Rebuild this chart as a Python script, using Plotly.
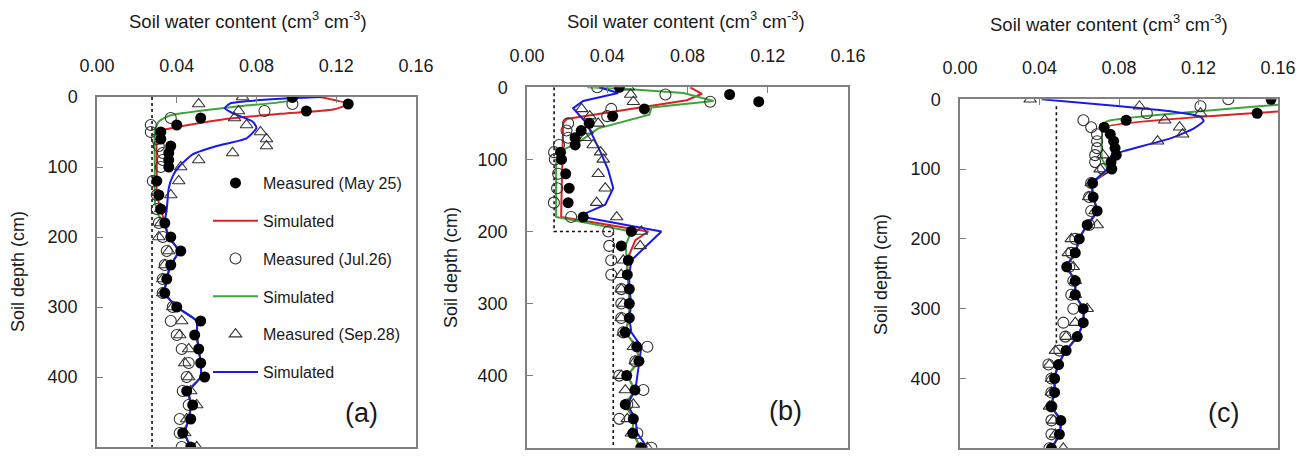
import plotly.graph_objects as go

W, H = 1311, 456
FONT = "Arial, Liberation Sans, sans-serif"

# ---------------- data ----------------
depths = [0, 10, 20, 30, 40, 50, 60, 70, 80, 90, 100, 120, 140, 160, 180, 200, 220, 240,
          260, 280, 300, 320, 340, 360, 380, 400, 420, 440, 460, 480, 500]
x_ticks = [0.0, 0.04, 0.08, 0.12, 0.16]
x_ticktext = ["0.00", "0.04", "0.08", "0.12", "0.16"]
y_ticks = [0, 100, 200, 300, 400, 500]

# Panel (a)
a_may = [0.098, 0.126, 0.105, 0.052, 0.040, 0.032, 0.032, 0.037, 0.036, 0.036, 0.036,
         0.030, 0.031, 0.032, 0.034, 0.037, 0.042, 0.037, 0.035, 0.034, 0.040,
         0.052, 0.049, 0.051, 0.052, 0.054, 0.045, 0.048, 0.047, 0.043, 0.047]
a_jul = [0.098, 0.098, 0.084, 0.037, 0.027, 0.027, 0.030, 0.031, 0.033, 0.033, 0.032,
         0.028, 0.030, 0.030, 0.031, 0.033, 0.035, 0.034, 0.033, 0.033, 0.038,
         0.037, 0.040, 0.0425, 0.046, 0.045, 0.043, 0.046, 0.0415, 0.0415, 0.0425]
a_sep = [0.073, 0.051, 0.071, 0.069, 0.075, 0.082, 0.085, 0.085, 0.068, 0.051, 0.042,
         0.041, 0.037, 0.032, 0.032, 0.031, 0.036, 0.034, 0.033, 0.033, 0.038,
         0.0425, 0.0415, 0.046, 0.044, 0.046, 0.047, 0.050, 0.045, 0.044, 0.050]
a_deep_d = [200, 220, 240, 260, 280, 300, 320, 340, 360, 380, 400, 420, 440, 460, 480, 500]
a_deep_v = [0.036, 0.041, 0.037, 0.035, 0.034, 0.040, 0.050, 0.050, 0.051, 0.052, 0.052,
            0.046, 0.047, 0.046, 0.044, 0.047]
a_red_d = [0, 10, 18, 24, 32, 43, 48, 60, 100, 140, 160, 180]
a_red_v = [0.112, 0.126, 0.1185, 0.092, 0.063, 0.040, 0.032, 0.030, 0.030, 0.030, 0.032, 0.034]
a_green_d = [0, 5, 13, 26, 35, 49, 100, 150, 170, 180]
a_green_v = [0.098, 0.097, 0.072, 0.037, 0.031, 0.029, 0.029, 0.029, 0.031, 0.034]
a_blue_d = [0, 2, 9, 16, 23, 35, 44, 59, 70, 82, 100, 113, 130, 160, 180]
a_blue_v = [0.113, 0.095, 0.067, 0.064, 0.068, 0.078, 0.080, 0.075, 0.060, 0.048, 0.041,
            0.038, 0.036, 0.035, 0.034]
a_dot_x = [0.0276, 0.0276]
a_dot_d = [0, 500]

# Panel (b)
b_may = [0.046, 0.101, 0.1155, 0.0585, 0.0427, 0.031, 0.027, 0.024, 0.024, 0.0167, 0.0172,
         0.0193, 0.021, 0.0205, 0.028, 0.052, 0.047, 0.0505, 0.050, 0.051, 0.051,
         0.051, 0.049, 0.0547, 0.0558, 0.0497, 0.0538, 0.049, 0.053, 0.0527, 0.0567]
b_jul = [0.035, 0.069, 0.0913, 0.042, 0.040, 0.0205, 0.0197, 0.0205, 0.016, 0.0135, 0.0139,
         0.0155, 0.015, 0.0134, 0.022, 0.0405, 0.041, 0.042, 0.042, 0.047, 0.047,
         0.047, 0.048, 0.060, 0.054, 0.046, 0.058, 0.050, 0.046, 0.055, 0.062]
b_sep = [0.0505, 0.0517, 0.053, 0.0272, 0.0313, 0.0355, 0.030, 0.029, 0.033, 0.0367, 0.038,
         0.0355, 0.039, 0.0347, 0.0447, 0.057, 0.0564, 0.048, 0.047, 0.047, 0.048,
         0.047, 0.048, 0.053, 0.054, 0.047, 0.049, 0.053, 0.050, 0.052, 0.060]
b_deep_d = [240, 260, 280, 300, 320, 340, 360, 380, 400, 420, 440, 460, 480, 500]
b_deep_red = [0.050, 0.050, 0.051, 0.051, 0.051, 0.049, 0.0547, 0.0558, 0.050, 0.0538,
              0.049, 0.053, 0.0527, 0.0567]
b_deep_blue = [0.052, 0.051, 0.051, 0.052, 0.051, 0.052, 0.057, 0.056, 0.055, 0.054,
               0.050, 0.054, 0.055, 0.060]
b_red_d = [0, 9, 18, 26, 36, 44, 50, 100, 180, 200, 212, 230]
b_red_v = [0.0813, 0.0872, 0.0797, 0.0613, 0.0388, 0.0197, 0.018, 0.0175, 0.017, 0.0605,
           0.054, 0.0513]
b_green_d = [0, 2, 8, 19, 28, 38, 57, 75, 89, 100, 180, 200, 220]
b_green_v = [0.030, 0.048, 0.078, 0.093, 0.062, 0.061, 0.0355, 0.0264, 0.0164, 0.0145,
             0.0145, 0.052, 0.049]
b_blue_d = [0, 8, 19, 29, 50, 92, 115, 140, 163, 175, 180, 200]
b_blue_v = [0.036, 0.0455, 0.028, 0.023, 0.0297, 0.037, 0.0405, 0.043, 0.039, 0.029,
            0.028, 0.067]
b_dot_x = [0.0135, 0.0135, 0.043, 0.043]
b_dot_d = [0, 200, 200, 500]

# Panel (c)
c_may = [0.1565, None, 0.1495, 0.0836, 0.0725, 0.0756, 0.0773, 0.078, 0.0786, 0.076, 0.0764,
         0.0667, 0.067, 0.069, 0.064, 0.060, 0.058, 0.0537, 0.058, 0.058, 0.062,
         0.062, 0.059, 0.0534, 0.0496, 0.0476, 0.0476, 0.046, 0.0507, 0.050, 0.046]
c_jul = [0.135, 0.121, 0.094, 0.0621, 0.066, 0.0689, 0.069, 0.069, 0.068, 0.068, 0.072,
         0.066, 0.065, 0.066, 0.065, 0.058, 0.056, 0.055, 0.057, 0.056, 0.057,
         0.052, 0.053, 0.050, 0.0445, 0.046, 0.046, 0.046, 0.046, 0.046, 0.045]
c_sep = [0.0353, 0.0903, 0.121, 0.103, 0.1105, 0.112, 0.0994, None, 0.072, None, 0.0705,
         0.066, 0.0647, 0.068, 0.069, 0.056, 0.0545, 0.057, 0.058, 0.058, 0.064,
         0.058, 0.0534, 0.048, 0.045, 0.046, 0.046, 0.045, 0.047, 0.048, 0.052]
c_deep_d = [120, 140, 160, 180, 200, 220, 240, 260, 280, 300, 320, 340, 360, 380, 400,
            420, 440, 460, 480, 500]
c_deep_v = [0.0667, 0.067, 0.069, 0.064, 0.060, 0.058, 0.0537, 0.058, 0.058, 0.062,
            0.062, 0.059, 0.0534, 0.0496, 0.0476, 0.0476, 0.046, 0.0507, 0.050, 0.046]
c_red_d = [15.8, 40, 50, 60, 70, 80, 90, 100]
c_red_v = [0.17, 0.073, 0.0756, 0.0773, 0.078, 0.0786, 0.076, 0.0764]
c_green_d = [5.6, 31.5, 37, 85, 100]
c_green_v = [0.17, 0.0739, 0.072, 0.0714, 0.074]
c_blue_d = [0, 10, 17, 25, 31, 42, 56, 73, 80, 90, 100]
c_blue_v = [0.041, 0.0806, 0.1058, 0.121, 0.1226, 0.1175, 0.1058, 0.084, 0.0764, 0.075, 0.074]
c_dot_x = [0.0485, 0.0485]
c_dot_d = [10, 350]

# ---------------- styles ----------------
RED = "rgb(220,35,35)"
GREEN = "rgb(60,165,60)"
BLUE = "rgb(25,25,235)"
AX = "#808080"
TXT = "#1a1a1a"

fig = go.Figure()

panels = [
    dict(xa="x", ya="y", may=a_may, jul=a_jul, sep=a_sep,
         red=(a_red_d + a_deep_d, a_red_v + a_deep_v),
         green=(a_green_d + a_deep_d, a_green_v + a_deep_v),
         blue=(a_blue_d + a_deep_d, a_blue_v + a_deep_v),
         dot=(a_dot_x, a_dot_d), shape="spline", legend=True),
    dict(xa="x2", ya="y2", may=b_may, jul=b_jul, sep=b_sep,
         red=(b_red_d + b_deep_d, b_red_v + b_deep_red),
         green=(b_green_d + b_deep_d, b_green_v + b_deep_red),
         blue=(b_blue_d + b_deep_d, b_blue_v + b_deep_blue),
         dot=(b_dot_x, b_dot_d), shape="linear", legend=False),
    dict(xa="x3", ya="y3", may=c_may, jul=c_jul, sep=c_sep,
         red=(c_red_d + c_deep_d, c_red_v + c_deep_v),
         green=(c_green_d + c_deep_d, c_green_v + c_deep_v),
         blue=(c_blue_d + c_deep_d, c_blue_v + c_deep_v),
         dot=(c_dot_x, c_dot_d), shape="spline", legend=False),
]

for p in panels:
    xa, ya, sl = p["xa"], p["ya"], p["legend"]
    fig.add_trace(go.Scatter(x=p["dot"][0], y=p["dot"][1], mode="lines", xaxis=xa, yaxis=ya,
                             line=dict(color="#111", width=1.6, dash="dot"), showlegend=False,
                             hoverinfo="skip"))
    for key, col, name, rank in [("red", RED, "Simulated", 2), ("green", GREEN, "Simulated", 4),
                                 ("blue", BLUE, "Simulated", 6)]:
        d, v = p[key]
        fig.add_trace(go.Scatter(x=v, y=d, mode="lines", xaxis=xa, yaxis=ya, name=name,
                                 line=dict(color=col, width=2, shape=p["shape"], smoothing=0.5),
                                 showlegend=sl, legendgroup="g%d" % rank, legendrank=rank))
    fig.add_trace(go.Scatter(x=p["sep"], y=depths, mode="markers", xaxis=xa, yaxis=ya,
                             name="Measured (Sep.28)",
                             marker=dict(symbol="triangle-up-open", size=11, color="#333",
                                         line=dict(width=1.1, color="#333")),
                             showlegend=sl, legendgroup="g5", legendrank=5))
    fig.add_trace(go.Scatter(x=p["jul"], y=depths, mode="markers", xaxis=xa, yaxis=ya,
                             name="Measured (Jul.26)",
                             marker=dict(symbol="circle-open", size=11, color="#333",
                                         line=dict(width=1.1, color="#333")),
                             showlegend=sl, legendgroup="g3", legendrank=3))
    fig.add_trace(go.Scatter(x=p["may"], y=depths, mode="markers", xaxis=xa, yaxis=ya,
                             name="Measured (May 25)",
                             marker=dict(symbol="circle", size=11, color="#000"),
                             showlegend=sl, legendgroup="g1", legendrank=1))

# ---------------- axes ----------------
xdoms = [(97, 416), (527, 848), (960, 1278)]
ydoms = [(97, 447), (87.3, 447.7), (99.3, 448.3)]

layout = dict(width=W, height=H, autosize=False,
              margin=dict(l=0, r=0, t=0, b=0, pad=0, autoexpand=False),
              paper_bgcolor="white", plot_bgcolor="white",
              font=dict(family=FONT, color=TXT), showlegend=True)

for i in range(3):
    sx = "" if i == 0 else str(i + 1)
    x0, x1 = xdoms[i]
    y0, y1 = ydoms[i]
    layout["xaxis" + sx] = dict(
        domain=[x0 / W, x1 / W], range=[0, 0.16], side="top", anchor="y" + sx,
        tickvals=x_ticks, ticktext=x_ticktext, ticks="inside", ticklen=6, tickwidth=1.2,
        tickcolor=AX, showline=True, linecolor=AX, linewidth=1.5, mirror=True,
        showgrid=False, zeroline=False, tickfont=dict(size=18, color=TXT),
        ticklabelstandoff=16, automargin=False)
    layout["yaxis" + sx] = dict(
        domain=[1 - y1 / H, 1 - y0 / H], range=[500, 0], anchor="x" + sx,
        tickvals=y_ticks, ticks="inside", ticklen=6, tickwidth=1.2, tickcolor=AX,
        showline=True, linecolor=AX, linewidth=1.5, mirror=True, showgrid=False,
        zeroline=False, tickfont=dict(size=18, color=TXT), ticklabelstandoff=14,
        automargin=False)

fig.update_layout(**layout)

fig.update_layout(legend=dict(x=208 / W, y=1 - 166 / H, xanchor="left", yanchor="top",
                              bgcolor="rgba(0,0,0,0)", font=dict(size=16, color=TXT),
                              tracegroupgap=14, itemwidth=45, traceorder="grouped"))

annots = []
title = "Soil water content (cm<sup>3</sup> cm<sup>-3</sup>)"
for (cx, cy) in [(248, 20), (686, 20), (1109, 23)]:
    annots.append(dict(text=title, x=cx / W, y=1 - cy / H, xref="paper", yref="paper",
                       xanchor="center", yanchor="middle", showarrow=False,
                       font=dict(size=18.5, color=TXT)))
for (cx, cy) in [(18, 272), (451, 268), (881, 274)]:
    annots.append(dict(text="Soil depth (cm)", x=cx / W, y=1 - cy / H, xref="paper",
                       yref="paper", xanchor="center", yanchor="middle", showarrow=False,
                       textangle=-90, font=dict(size=18, color=TXT)))
for (lab, cx, cy) in [("(a)", 361, 413), ("(b)", 785, 411), ("(c)", 1223, 413)]:
    annots.append(dict(text=lab, x=cx / W, y=1 - cy / H, xref="paper", yref="paper",
                       xanchor="center", yanchor="middle", showarrow=False,
                       font=dict(size=27, color=TXT)))
fig.update_layout(annotations=annots)

fig.write_html("out.html", config={"displayModeBar": False},
               post_script="document.body.style.margin='0px';"
                           "document.body.style.overflow='hidden';")
